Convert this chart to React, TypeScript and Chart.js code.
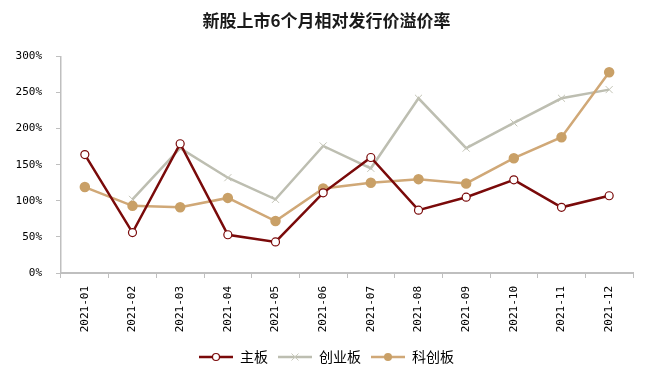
import React, { useEffect, useRef } from "react";
import { Chart, registerables } from "chart.js";

Chart.register(...registerables);

const title = "新股上市6个月相对发行价溢价率";
const categories = [
  "2021-01", "2021-02", "2021-03", "2021-04", "2021-05", "2021-06",
  "2021-07", "2021-08", "2021-09", "2021-10", "2021-11", "2021-12",
];
const seriesNames = ["主板", "创业板", "科创板"];
const mainBoard = [164, 56, 179, 53, 43, 111, 160, 87, 105, 129, 91, 107];
const chinext = [null, 102, 173, 132, 102, 176, 145, 242, 173, 208, 242, 254];
const star = [119, 93, 91, 104, 72, 117, 125, 130, 124, 159, 188, 278];
const yTicks = [0, 50, 100, 150, 200, 250, 300];

const RED = "#7a0a0a";
const GRAY = "#bdbeb1";
const TAN = "#d0a877";
const TAN_PT = "#c9a067";

function legendIcon(kind: number): HTMLCanvasElement {
  const c = document.createElement("canvas");
  c.width = 34;
  c.height = 12;
  const g = c.getContext("2d")!;
  const color = kind === 0 ? RED : kind === 1 ? GRAY : TAN;
  g.strokeStyle = color;
  g.lineWidth = 2.5;
  g.beginPath();
  g.moveTo(0, 6);
  g.lineTo(34, 6);
  g.stroke();
  if (kind === 0) {
    g.fillStyle = "#fff";
    g.lineWidth = 1.2;
    g.beginPath();
    g.arc(17, 6, 3.5, 0, Math.PI * 2);
    g.fill();
    g.stroke();
  } else if (kind === 1) {
    g.strokeStyle = "#c8c9bc";
    g.lineWidth = 1;
    g.beginPath();
    g.moveTo(13.5, 2.5);
    g.lineTo(20.5, 9.5);
    g.moveTo(20.5, 2.5);
    g.lineTo(13.5, 9.5);
    g.stroke();
  } else {
    g.fillStyle = TAN_PT;
    g.beginPath();
    g.arc(17, 6, 4, 0, Math.PI * 2);
    g.fill();
  }
  return c;
}

export default function App() {
  const ref = useRef<HTMLCanvasElement | null>(null);
  useEffect(() => {
    document.body.style.margin = "0";
    const icons = [legendIcon(0), legendIcon(1), legendIcon(2)];
    const chart = new Chart(ref.current!, {
      type: "line",
      data: {
        labels: categories,
        datasets: [
          {
            label: seriesNames[0],
            data: mainBoard,
            borderColor: RED,
            borderWidth: 2.5,
            pointBackgroundColor: "#ffffff",
            pointBorderColor: RED,
            pointBorderWidth: 1.2,
            pointRadius: 4,
            pointStyle: "circle",
            tension: 0,
            order: 1,
          },
          {
            label: seriesNames[1],
            data: chinext,
            borderColor: GRAY,
            borderWidth: 2.5,
            pointBorderColor: "#c3c4b6",
            pointBackgroundColor: GRAY,
            pointBorderWidth: 1,
            pointRadius: 5,
            pointStyle: "crossRot",
            tension: 0,
            order: 3,
          },
          {
            label: seriesNames[2],
            data: star,
            borderColor: TAN,
            borderWidth: 2.5,
            pointBackgroundColor: TAN_PT,
            pointBorderColor: TAN_PT,
            pointRadius: 4,
            pointStyle: "circle",
            tension: 0,
            order: 2,
          },
        ],
      },
      options: {
        animation: false,
        responsive: false,
        maintainAspectRatio: false,
        layout: { padding: { left: 0, right: 0, top: 0, bottom: 12 } },
        plugins: {
          title: {
            display: true,
            text: title,
            color: "#1a1a1a",
            font: { family: "'Noto Sans CJK SC'", size: 17, weight: "bold" },
            padding: { top: 10, bottom: 26 },
          },
          legend: {
            position: "bottom",
            labels: {
              usePointStyle: true,
              pointStyleWidth: 34,
              generateLabels: () =>
                seriesNames.map((n, i) => ({
                  text: n,
                  pointStyle: icons[i],
                  fillStyle: "transparent",
                  strokeStyle: "transparent",
                  lineWidth: 0,
                  datasetIndex: i,
                  hidden: false,
                })),
              font: { family: "'Noto Sans CJK SC'", size: 14 },
              color: "#000",
              padding: 10,
              boxWidth: 34,
              boxHeight: 12,
            },
          },
          tooltip: { enabled: false },
        },
        scales: {
          x: {
            offset: true,
            grid: {
              offset: true,
              drawOnChartArea: false,
              drawTicks: true,
              tickLength: 5,
              color: "#bfbfbf",
            },
            border: { color: "#bfbfbf", width: 2 },
            ticks: {
              minRotation: 90,
              maxRotation: 90,
              padding: 8,
              color: "#000",
              font: { family: "'DejaVu Sans Mono'", size: 11 },
            },
            afterFit: (s: any) => {
              s.height = 67;
            },
          },
          y: {
            min: 0,
            max: 300,
            afterBuildTicks: (s: any) => {
              s.ticks = yTicks.map((v) => ({ value: v }));
            },
            grid: {
              drawOnChartArea: false,
              drawTicks: true,
              tickLength: 5,
              color: "#bfbfbf",
            },
            border: { color: "#bfbfbf", width: 1.5 },
            ticks: {
              padding: 14,
              color: "#000",
              font: { family: "'DejaVu Sans Mono'", size: 11 },
              callback: (v: any) => v + "%",
            },
            afterFit: (s: any) => {
              s.width = 61;
            },
          },
          spacer: {
            type: "linear",
            position: "right",
            display: true,
            grid: { display: false, drawTicks: false },
            border: { display: false },
            ticks: { display: false },
            afterFit: (s: any) => {
              s.width = 20;
            },
          },
        },
      },
    });
    return () => chart.destroy();
  }, []);
  return (
    <div style={{ width: 653, height: 386, background: "#fff" }}>
      <canvas ref={ref} width={653} height={386} style={{ display: "block" }} />
    </div>
  );
}
